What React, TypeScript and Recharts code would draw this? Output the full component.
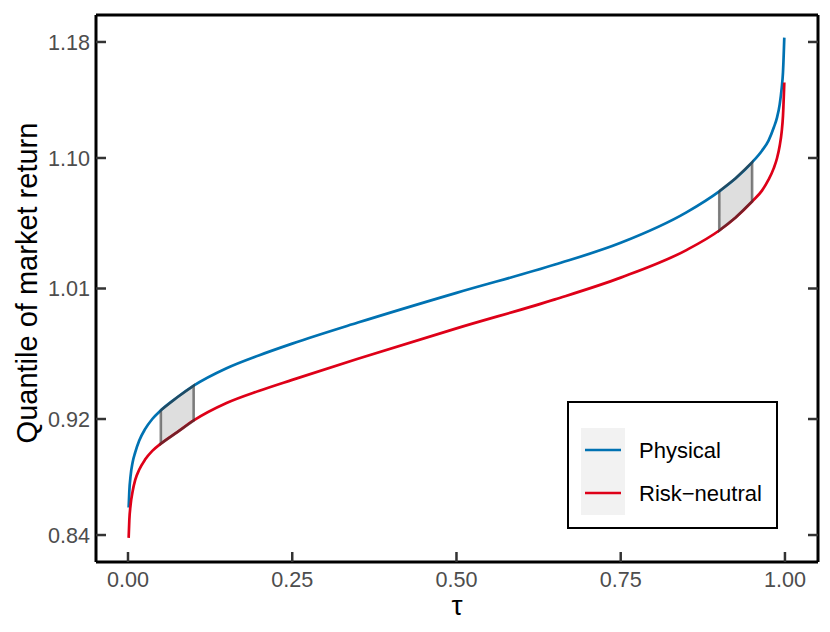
import { ComposedChart, Line, Area, XAxis, YAxis } from 'recharts'

const tau = [
  0.001, 0.002, 0.004, 0.007, 0.011, 0.017, 0.026, 0.037, 0.05, 0.075, 0.1, 0.15, 0.2, 0.25, 0.35, 0.5, 0.65, 0.75, 0.85,
  0.9, 0.925, 0.95, 0.965, 0.975, 0.983, 0.988, 0.992, 0.995, 0.997, 0.999,
]
const physical = [
  0.859, 0.87, 0.881, 0.89, 0.897, 0.905, 0.913, 0.92, 0.926, 0.935, 0.943, 0.955, 0.964, 0.972, 0.9865, 1.007, 1.0265,
  1.0415, 1.0625, 1.077, 1.086, 1.097, 1.105, 1.112, 1.121, 1.128, 1.137, 1.148, 1.159, 1.183,
]
const riskNeutral = [
  0.838, 0.85, 0.861, 0.87, 0.878, 0.885, 0.892, 0.898, 0.903, 0.911, 0.919, 0.931, 0.9395, 0.947, 0.9615, 0.9825, 1.0025,
  1.0175, 1.0365, 1.05, 1.059, 1.07, 1.0775, 1.085, 1.093, 1.1, 1.1085, 1.118, 1.129, 1.152,
]

const xTicks = [0, 0.25, 0.5, 0.75, 1]
const yTicks = [0.84, 0.92, 1.01, 1.1, 1.18]
const bands = [
  [0.05, 0.1],
  [0.9, 0.95],
]

const BLUE = '#0072B2'
const RED = '#DE0018'
const FONT = '"Liberation Sans", Arial, Helvetica, sans-serif'

const series = [
  { key: 'physical', name: 'Physical', color: BLUE },
  { key: 'riskNeutral', name: 'Risk\u2212neutral', color: RED },
]

const data = tau.map((t, i) => ({ tau: t, physical: physical[i], riskNeutral: riskNeutral[i] }))

// shaded band between the two curves, plus its closed outline
function bandArea(lo: number, hi: number) {
  return data.filter((d) => d.tau >= lo && d.tau <= hi).map((d) => ({ tau: d.tau, range: [d.riskNeutral, d.physical] }))
}
function bandOutline(lo: number, hi: number) {
  const pts = data.filter((d) => d.tau >= lo && d.tau <= hi)
  const top = pts.map((d) => ({ tau: d.tau, q: d.physical }))
  const bottom = [...pts].reverse().map((d) => ({ tau: d.tau, q: d.riskNeutral }))
  return [...top, ...bottom, top[0]]
}

const LeftTick = ({ x, y, payload }: any) => (
  <g>
    <line x1={x} x2={x + 10} y1={y} y2={y} stroke="#333" strokeWidth={2.5} />
    <text x={x - 6} y={y} dy="0.36em" textAnchor="end" fill="#4D4D4D" fontSize={21.6} fontFamily={FONT}>
      {Number(payload.value).toFixed(2)}
    </text>
  </g>
)

const RightTick = ({ x, y }: any) => (
  <line x1={x - 10} x2={x} y1={y} y2={y} stroke="#333" strokeWidth={2.5} />
)

const BottomTick = ({ x, y, payload }: any) => (
  <g>
    <line x1={x} x2={x} y1={y - 10} y2={y} stroke="#333" strokeWidth={2.5} />
    <text x={x} y={y + 25} textAnchor="middle" fill="#4D4D4D" fontSize={21.6} fontFamily={FONT}>
      {Number(payload.value).toFixed(2)}
    </text>
  </g>
)

function LegendBox() {
  return (
    <div
      style={{
        position: 'absolute',
        left: 567,
        top: 401,
        width: 211,
        height: 128,
        boxSizing: 'border-box',
        border: '2px solid #000',
        background: '#fff',
      }}
    >
      <svg width={207} height={124}>
        <rect x={12} y={25} width={44} height={87} fill="#F2F2F2" />
        {series.map((s, i) => (
          <g key={s.key}>
            <line x1={16} x2={52} y1={47 + i * 43} y2={47 + i * 43} stroke={s.color} strokeWidth={2.6} />
            <text x={70} y={55 + i * 43} fontSize={22} fontFamily={FONT} fill="#000">
              {s.name}
            </text>
          </g>
        ))}
      </svg>
    </div>
  )
}

export default function App() {
  return (
    <div style={{ position: 'relative', width: 830, height: 632 }}>
      <style>{'body{margin:0}'}</style>
      <ComposedChart width={830} height={632} data={data} margin={{ top: 0, right: 0, bottom: 0, left: 0 }}>
        <XAxis
          dataKey="tau"
          type="number"
          domain={[-0.0487, 1.0503]}
          ticks={xTicks}
          allowDataOverflow
          height={70}
          tickSize={0}
          tickMargin={0}
          tickLine={false}
          tick={<BottomTick />}
          axisLine={{ stroke: '#000', strokeWidth: 3 }}
          label={{
            content: () => (
              <text x={457} y={615} textAnchor="middle" fontSize={28} fontFamily={FONT} fill="#000">
                τ
              </text>
            ),
          }}
        />
        <XAxis
          xAxisId="top"
          orientation="top"
          dataKey="tau"
          type="number"
          domain={[-0.0487, 1.0503]}
          allowDataOverflow
          height={15}
          tick={false}
          tickLine={false}
          axisLine={{ stroke: '#000', strokeWidth: 3 }}
        />
        <YAxis
          type="number"
          domain={[0.8214, 1.1986]}
          ticks={yTicks}
          allowDataOverflow
          width={96}
          tickSize={0}
          tickMargin={0}
          tickLine={false}
          tick={<LeftTick />}
          axisLine={{ stroke: '#000', strokeWidth: 3 }}
          label={{
            content: () => (
              <text
                x={37}
                y={283}
                transform="rotate(-90 37 283)"
                textAnchor="middle"
                fontSize={29}
                fontFamily={FONT}
                fill="#000"
              >
                Quantile of market return
              </text>
            ),
          }}
        />
        <YAxis
          yAxisId="right"
          orientation="right"
          type="number"
          domain={[0.8214, 1.1986]}
          ticks={yTicks}
          allowDataOverflow
          width={12}
          tickSize={0}
          tickMargin={0}
          tickLine={false}
          tick={<RightTick />}
          axisLine={{ stroke: '#000', strokeWidth: 3 }}
        />
        {bands.map(([lo, hi]) => (
          <Area
            key={`a${lo}`}
            data={bandArea(lo, hi)}
            dataKey="range"
            type="monotone"
            fill="#DEDEDE"
            fillOpacity={1}
            stroke="none"
            isAnimationActive={false}
          />
        ))}
        {series.map((s) => (
          <Line
            key={s.key}
            dataKey={s.key}
            type="monotone"
            stroke={s.color}
            strokeWidth={2.7}
            dot={false}
            isAnimationActive={false}
          />
        ))}
        {bands.map(([lo, hi]) => (
          <Line
            key={`o${lo}`}
            data={bandOutline(lo, hi)}
            dataKey="q"
            type="linear"
            stroke="rgba(50,50,50,0.6)"
            strokeWidth={2.6}
            dot={false}
            isAnimationActive={false}
          />
        ))}
      </ComposedChart>
      <LegendBox />
    </div>
  )
}
